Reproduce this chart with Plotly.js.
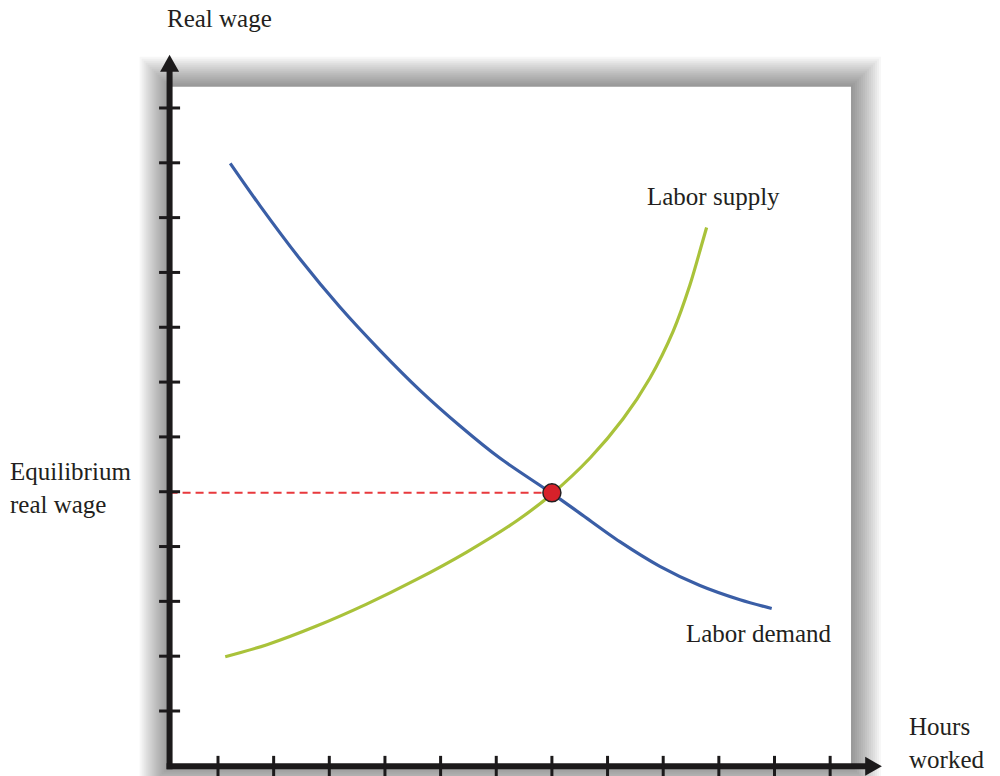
<!DOCTYPE html>
<html>
<head>
<meta charset="utf-8">
<script src="https://cdn.plot.ly/plotly-3.0.1.min.js"></script>
<style>
  html, body { margin: 0; padding: 0; background: #ffffff; }
  #chart { width: 1000px; height: 776px; }
</style>
</head>
<body>
<div id="chart"></div>
<script>
// ---- Data (hours worked on x, real wage on y; tick spacing = 1 unit) ----
const xTicks = [1, 2, 3, 4, 5, 6, 7, 8, 9, 10, 11, 12];
const yTicks = [1, 2, 3, 4, 5, 6, 7, 8, 9, 10, 11, 12];

const demandHours = [1.22, 1.76, 2.47, 3.19, 3.91, 4.63, 5.35, 6.07, 7.0, 7.5, 8.22, 8.94, 9.66, 10.38, 10.95];
const demandWage  = [10.99, 10.21, 9.25, 8.37, 7.58, 6.85, 6.20, 5.61, 4.97, 4.61, 4.09, 3.64, 3.29, 3.03, 2.87];

const supplyHours = [1.13, 1.88, 2.77, 3.67, 4.57, 5.47, 6.37, 7.0, 7.69, 8.28, 8.76, 9.18, 9.48, 9.69, 9.78];
const supplyWage  = [1.99, 2.21, 2.55, 2.95, 3.40, 3.90, 4.47, 4.96, 5.62, 6.33, 7.07, 7.93, 8.77, 9.50, 9.82];

const eqHours = [7.0];
const eqWage  = [4.98];

const labels = {
  yTitle: "Real wage",
  xTitle: "Hours<br>worked",
  eq: "Equilibrium<br>real wage",
  supply: "Labor supply",
  demand: "Labor demand"
};

// ---- Geometry / styling ----
const X0 = 0.13, Y0 = -0.01;          // axis origin
const PX = 55.65, PY = 54.82;          // pixels per unit
const XR = [1 - 218 / PX, 1 + 782 / PX];
const YR = [1 - 65 / PY, 1 + 711 / PY];
const panelX1 = 12.375, panelY1 = 12.388;
const yTip = 12.97, yBase = 12.66, xTip = 12.93, xBase = 12.63;
const axisColor = "#1c1a1b";
const textColor = "#231f20";
const font = "Liberation Serif, Times New Roman, serif";

const shapes = [];
// soft shadow around the panel
const N = 15;
for (let i = N; i >= 1; i--) {
  const e = i * 2;
  shapes.push({
    type: "rect", xref: "x", yref: "y", layer: "below",
    x0: X0 - e / PX, x1: panelX1 + e / PX, y0: Y0 - e / PY, y1: panelY1 + e / PY,
    fillcolor: "rgba(0,0,0,0.03)", line: { width: 0 }
  });
}
// white panel
shapes.push({
  type: "rect", xref: "x", yref: "y", layer: "below",
  x0: X0, x1: panelX1, y0: Y0, y1: panelY1,
  fillcolor: "#ffffff", line: { width: 0 }
});
// axes
shapes.push({ type: "line", xref: "x", yref: "y", x0: X0, x1: X0, y0: Y0 - 3 / PY, y1: yBase + 2 / PY, line: { color: axisColor, width: 6 } });
shapes.push({ type: "line", xref: "x", yref: "y", x0: X0 - 3 / PX, x1: xBase + 2 / PX, y0: Y0, y1: Y0, line: { color: axisColor, width: 6 } });
// arrow heads
const hwx = 9.5 / PX, hwy = 9.5 / PY;
shapes.push({ type: "path", xref: "x", yref: "y",
  path: `M ${X0 - hwx},${yBase} L ${X0},${yTip} L ${X0 + hwx},${yBase} Z`,
  fillcolor: axisColor, line: { width: 0 } });
shapes.push({ type: "path", xref: "x", yref: "y",
  path: `M ${xBase},${Y0 - hwy} L ${xTip},${Y0} L ${xBase},${Y0 + hwy} Z`,
  fillcolor: axisColor, line: { width: 0 } });
// tick marks
yTicks.forEach(k => shapes.push({
  type: "line", xref: "x", yref: "y", xsizemode: "pixel", xanchor: X0,
  x0: -10.5, x1: 10.5, y0: k, y1: k, line: { color: axisColor, width: 3 }
}));
xTicks.forEach(k => shapes.push({
  type: "line", xref: "x", yref: "y", ysizemode: "pixel", yanchor: Y0,
  y0: -10.5, y1: 10.5, x0: k, x1: k, line: { color: axisColor, width: 3 }
}));

const traces = [
  { x: [X0, eqHours[0]], y: [eqWage[0], eqWage[0]], mode: "lines",
    line: { color: "#e8393d", width: 2, dash: "8px,5px" }, hoverinfo: "skip" },
  { x: supplyHours, y: supplyWage, mode: "lines",
    line: { color: "#a9c23a", width: 3.2, shape: "spline", smoothing: 0.9 }, name: labels.supply },
  { x: demandHours, y: demandWage, mode: "lines",
    line: { color: "#3a5ea6", width: 3.2, shape: "spline", smoothing: 0.9 }, name: labels.demand },
  { x: eqHours, y: eqWage, mode: "markers",
    marker: { color: "#d7212a", size: 18, line: { color: "#231f20", width: 1.5 } }, name: "Equilibrium" }
];

const tf = { family: font, size: 25, color: textColor };
const annotations = [
  { xref: "paper", yref: "paper", x: 165 / 1000, y: 1 - 18 / 776, xanchor: "left", yanchor: "middle",
    text: labels.yTitle, showarrow: false, font: tf },
  { xref: "paper", yref: "paper", x: 907 / 1000, y: 1 - 743 / 776, xanchor: "left", yanchor: "middle",
    text: labels.xTitle, showarrow: false, font: tf, align: "left" },
  { xref: "paper", yref: "paper", x: 8 / 1000, y: 1 - 488 / 776, xanchor: "left", yanchor: "middle",
    text: labels.eq, showarrow: false, font: tf, align: "left" },
  { xref: "paper", yref: "paper", x: 713 / 1000, y: 1 - 196 / 776, xanchor: "center", yanchor: "middle",
    text: labels.supply, showarrow: false, font: tf },
  { xref: "paper", yref: "paper", x: 759 / 1000, y: 1 - 633 / 776, xanchor: "center", yanchor: "middle",
    text: labels.demand, showarrow: false, font: tf }
];

const layout = {
  width: 1000, height: 776,
  margin: { l: 0, r: 0, t: 0, b: 0, pad: 0 },
  paper_bgcolor: "#ffffff", plot_bgcolor: "rgba(0,0,0,0)",
  showlegend: false,
  xaxis: { range: XR, visible: false, fixedrange: true },
  yaxis: { range: YR, visible: false, fixedrange: true },
  shapes: shapes,
  annotations: annotations
};

Plotly.newPlot("chart", traces, layout, { staticPlot: true, displayModeBar: false });
</script>
</body>
</html>
